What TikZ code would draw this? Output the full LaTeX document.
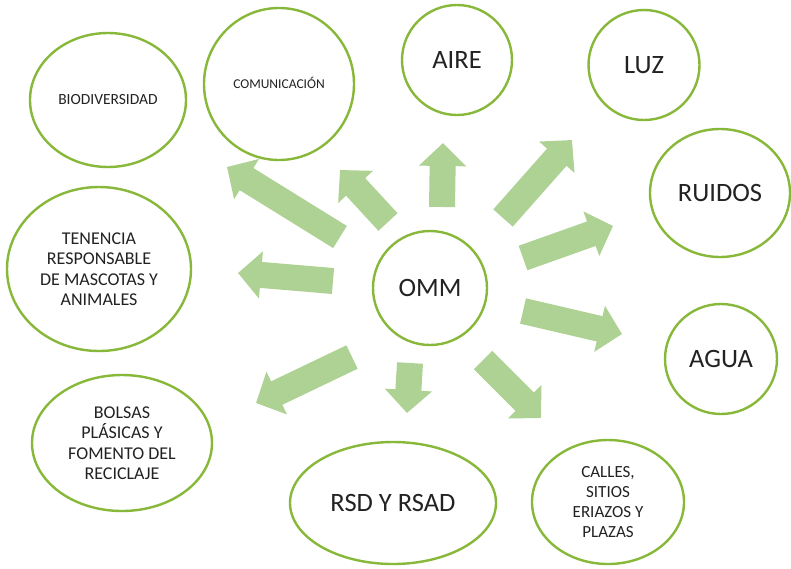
\documentclass[tikz,border=0pt]{standalone}
\usepackage{fontspec}
\setmainfont{Carlito}
\usepackage{tikz}
\usetikzlibrary{arrows.meta,shapes.geometric}
\definecolor{rimgreen}{HTML}{88B83A}
\definecolor{flowgreen}{HTML}{AED293}
\definecolor{inkgray}{HTML}{222222}
\newcommand{\rimw}{2.4pt}
\newcommand{\flowd}{26pt}
\tikzset{
  Topic/.style = {ellipse, draw=rimgreen, line width=\rimw, fill=white, inner sep=0pt,
                  text=inkgray, align=center},
  Flow/.style  = {draw=flowgreen, line width=\flowd,
                  -{Triangle[width=46pt,length=23pt]}},
  BigText/.style   = {font=\fontsize{26.5}{29}\selectfont},
  MidText/.style   = {font=\fontsize{18}{20.5}\selectfont},
  SmallText/.style = {font=\fontsize{15.5}{17}\selectfont}
}

\begin{document}
\begin{tikzpicture}[x=1pt,y=-1pt]
    \useasboundingbox (0,0) rectangle (791,568);
    %\draw[help lines] (0,0) grid[step=50] (791,568);
    \node[Topic, minimum width=156pt, minimum height=134pt, SmallText] (bio) at (108,100) {BIODIVERSIDAD};
    \node[Topic, minimum width=150pt, minimum height=152pt] (com) at (279,84) {};
    \node[font=\fontsize{13.5}{15}\selectfont, text=inkgray] (comtxt) at (279,83) {COMUNICACIÓN};
    \node[Topic, minimum width=110pt, minimum height=110pt, BigText] (aire) at (457,60) {AIRE};
    \node[Topic, minimum width=111pt, minimum height=110pt, BigText] (luz) at (644,65) {LUZ};
    \node[Topic, minimum width=140pt, minimum height=128pt, BigText] (ruidos) at (720,193) {RUIDOS};
    \node[Topic, minimum width=184pt, minimum height=164pt, MidText] (mascotas) at (99,269)
        {TENENCIA\\RESPONSABLE\\DE MASCOTAS Y\\ANIMALES};
    \node[Topic, minimum width=114pt, minimum height=114pt, BigText] (omm) at (430,288) {OMM};
    \node[Topic, minimum width=112pt, minimum height=110pt, BigText] (agua) at (721,359) {AGUA};
    \node[Topic, minimum width=180pt, minimum height=136pt, MidText] (bolsas) at (122,443)
        {BOLSAS\\PLÁSICAS Y\\FOMENTO DEL\\RECICLAJE};
    \node[Topic, minimum width=206pt, minimum height=122pt, BigText] (rsd) at (393,503) {RSD Y RSAD};
    \node[Topic, minimum width=152pt, minimum height=124pt, font=\fontsize{17}{20}\selectfont] (calles) at (608,502)
        {CALLES,\\SITIOS\\ERIAZOS Y\\PLAZAS};

    % arrow ends
    \coordinate (fbio0) at (340,237);    \coordinate (fbio1) at (227,167);
    \coordinate (fcom0) at (388,222);    \coordinate (fcom1) at (340,170);
    \coordinate (faire0) at (442,207);   \coordinate (faire1) at (443,143);
    \coordinate (fluz0) at (503,218);    \coordinate (fluz1) at (572,140);
    \coordinate (fruid0) at (523,258);   \coordinate (fruid1) at (613,226);
    \coordinate (fmasc0) at (333,281);   \coordinate (fmasc1) at (238,273);
    \coordinate (fagua0) at (523,311);   \coordinate (fagua1) at (622,334);
    \coordinate (fbols0) at (352,357);   \coordinate (fbols1) at (256,403);
    \coordinate (frsd0) at (410,363);    \coordinate (frsd1) at (407,413);
    \coordinate (fcall0) at (483,360);   \coordinate (fcall1) at (541,418);

    \draw[Flow] (fbio0) -- (fbio1);
    \draw[Flow] (fcom0) -- (fcom1);
    \draw[Flow] (faire0) -- (faire1);
    \draw[Flow] (fluz0) -- (fluz1);
    \draw[Flow] (fruid0) -- (fruid1);
    \draw[Flow] (fmasc0) -- (fmasc1);
    \draw[Flow] (fagua0) -- (fagua1);
    \draw[Flow] (fbols0) -- (fbols1);
    \draw[Flow] (frsd0) -- (frsd1);
    \draw[Flow] (fcall0) -- (fcall1);
\end{tikzpicture}
\end{document}
